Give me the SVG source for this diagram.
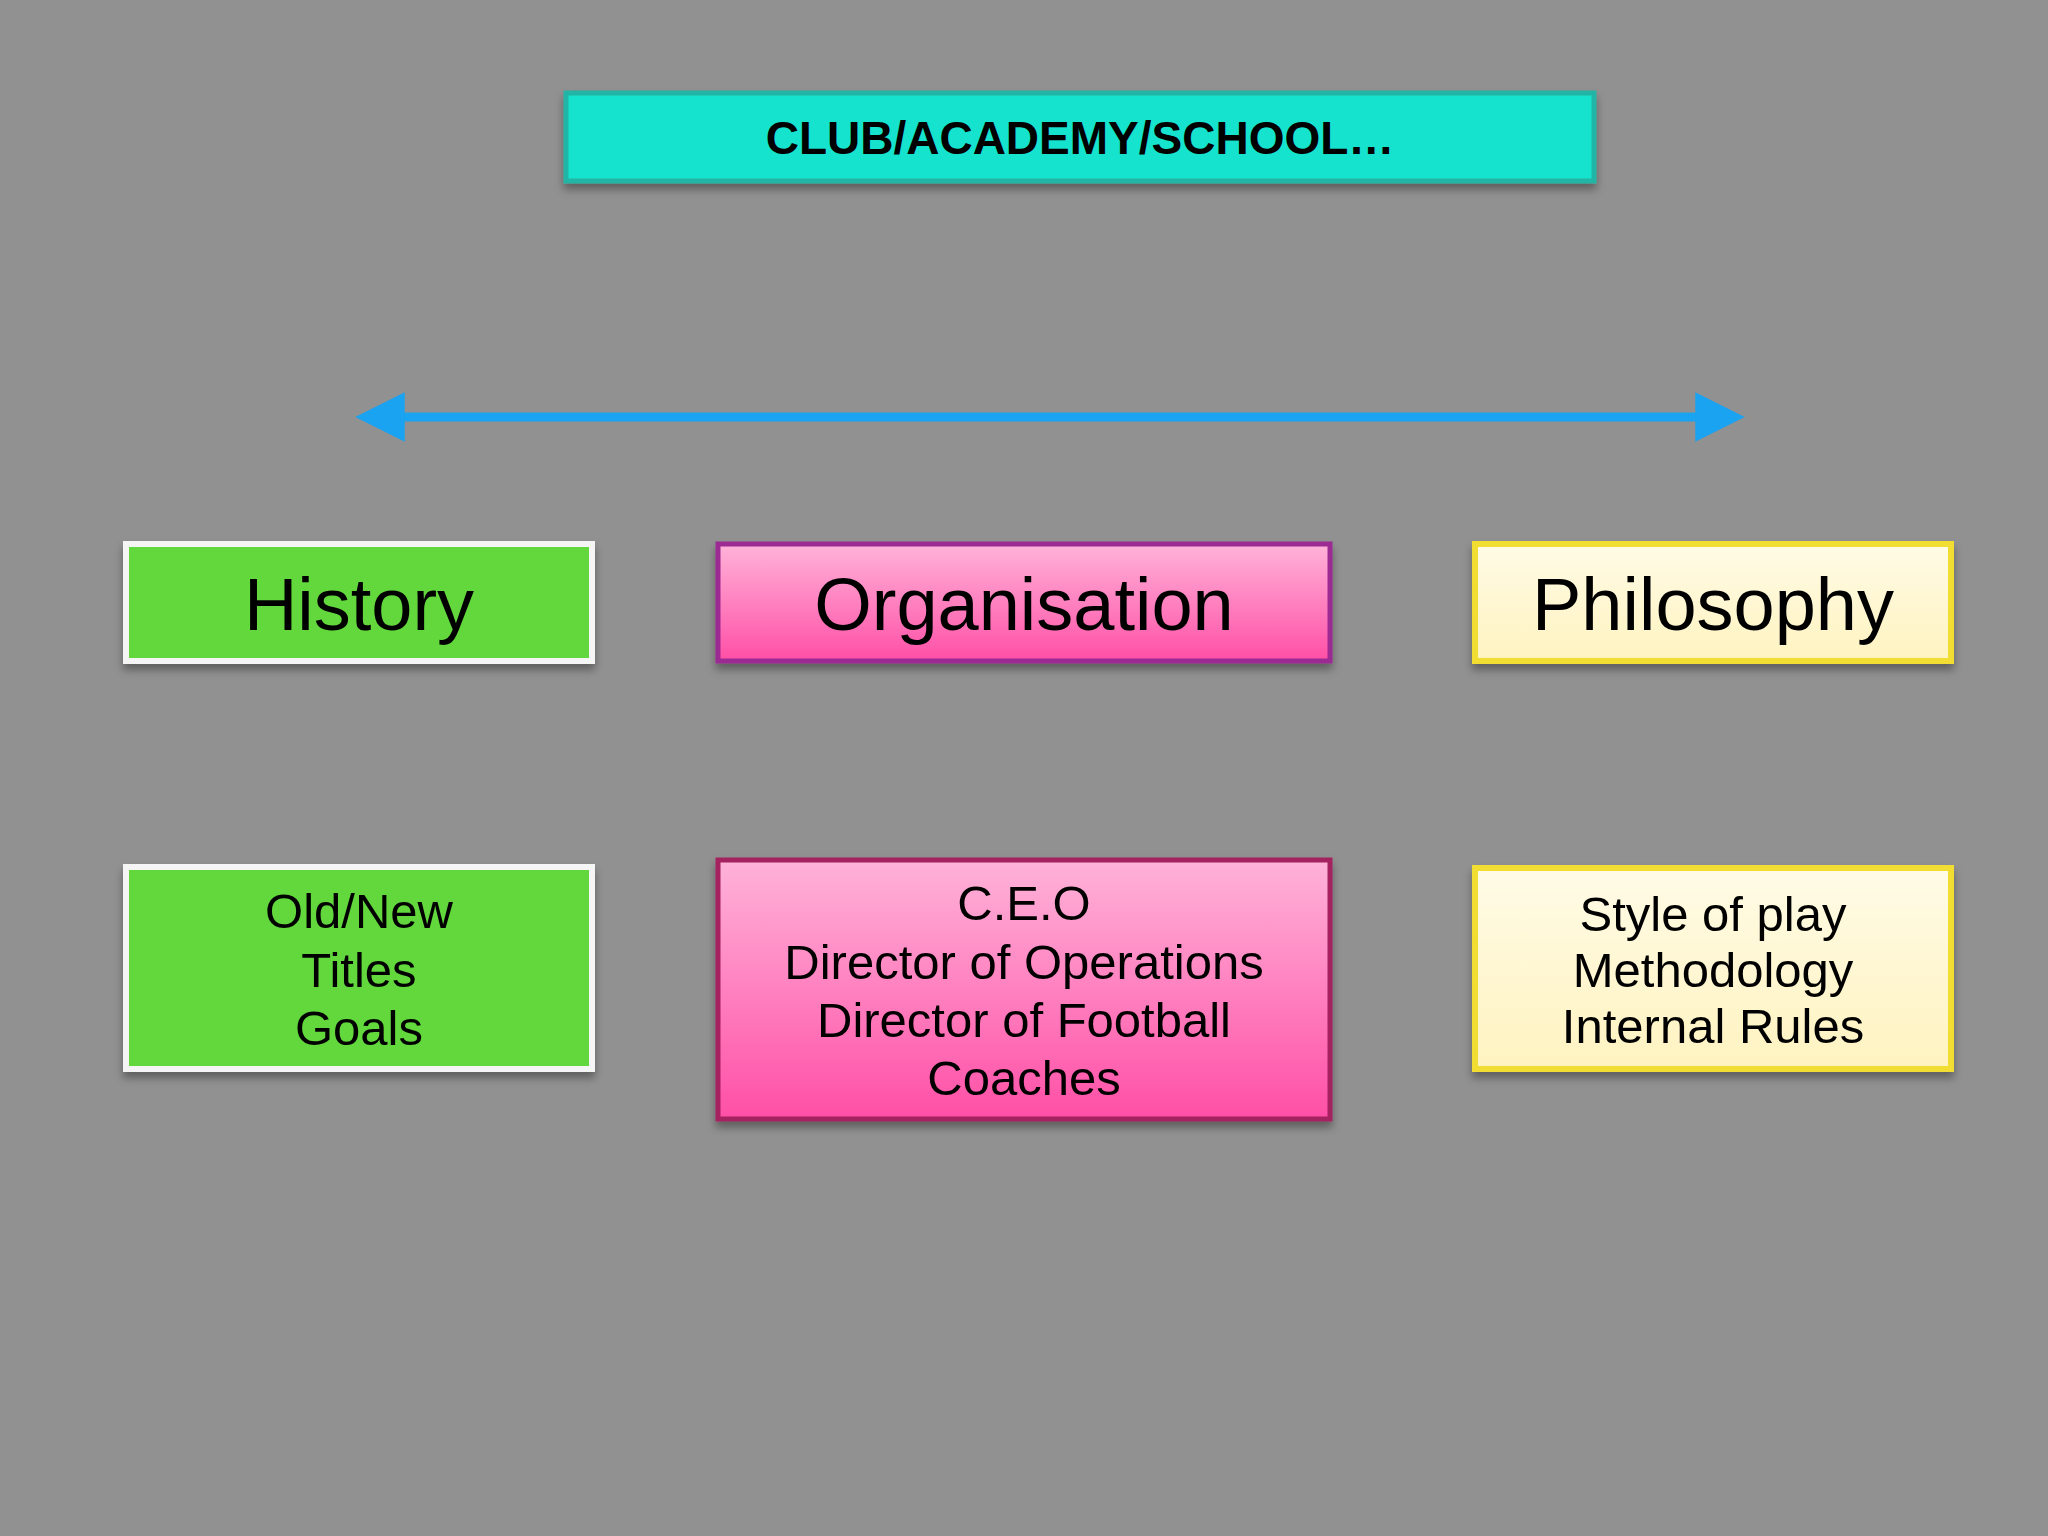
<svg xmlns="http://www.w3.org/2000/svg" width="2048" height="1536" viewBox="0 0 2048 1536">
<defs>
<linearGradient id="pink" x1="0" y1="0" x2="0" y2="1"><stop offset="0" stop-color="#ffb3d9"/><stop offset="1" stop-color="#ff4fa6"/></linearGradient>
<linearGradient id="cream" x1="0" y1="0" x2="0" y2="1"><stop offset="0" stop-color="#fffbe6"/><stop offset="1" stop-color="#fff3c0"/></linearGradient>
<filter id="sh" x="-5%" y="-10%" width="110%" height="130%"><feDropShadow dx="0" dy="6" stdDeviation="4" flood-color="#000" flood-opacity="0.35"/></filter>
<marker id="ah" viewBox="0 0 10 10" refX="5" refY="5" markerWidth="5.5" markerHeight="6" orient="auto-start-reverse"><path d="M0,0 L10,5 L0,10 Z" fill="#1aa3f0"/></marker>
</defs>
<style>
.t{font-family:"Liberation Sans",Arial,sans-serif;fill:#000;text-anchor:middle}
.big{font-size:74px}
.mid{font-size:49px}
</style>
<rect width="2048" height="1536" fill="#929192"/>
<g id="connectors">
<line x1="380" y1="417" x2="1720" y2="417" stroke="#1aa3f0" stroke-width="9" marker-start="url(#ah)" marker-end="url(#ah)"/>
</g>
<g id="top"><rect x="566" y="93" width="1028" height="88" fill="#18e3cd" stroke="#20b4a4" stroke-width="5" filter="url(#sh)"/><text class="t" x="1080" y="154" font-size="46" font-weight="bold">CLUB/ACADEMY/SCHOOL…</text></g>
<g id="history"><rect x="126" y="544" width="466" height="117" fill="#62d83c" stroke="#f5f5f5" stroke-width="6" filter="url(#sh)"/><text class="t big" x="359" y="630">History</text></g>
<g id="organisation"><rect x="718" y="544" width="612" height="117" fill="url(#pink)" stroke="#9b2a92" stroke-width="5" filter="url(#sh)"/><text class="t big" x="1024" y="630">Organisation</text></g>
<g id="philosophy"><rect x="1475" y="544" width="476" height="117" fill="url(#cream)" stroke="#f2de30" stroke-width="6" filter="url(#sh)"/><text class="t big" x="1713" y="630">Philosophy</text></g>
<g id="history-items"><rect x="126" y="867" width="466" height="202" fill="#62d83c" stroke="#f5f5f5" stroke-width="6" filter="url(#sh)"/>
<text class="t mid" x="359" y="928">Old/New</text><text class="t mid" x="359" y="987">Titles</text><text class="t mid" x="359" y="1045">Goals</text></g>
<g id="organisation-items"><rect x="718" y="860" width="612" height="259" fill="url(#pink)" stroke="#a3205e" stroke-width="5" filter="url(#sh)"/>
<text class="t mid" x="1024" y="920">C.E.O</text><text class="t mid" x="1024" y="979">Director of Operations</text><text class="t mid" x="1024" y="1037">Director of Football</text><text class="t mid" x="1024" y="1095">Coaches</text></g>
<g id="philosophy-items"><rect x="1475" y="868" width="476" height="201" fill="url(#cream)" stroke="#f2de30" stroke-width="6" filter="url(#sh)"/>
<text class="t mid" x="1713" y="931">Style of play</text><text class="t mid" x="1713" y="987">Methodology</text><text class="t mid" x="1713" y="1043">Internal Rules</text></g>
</svg>
